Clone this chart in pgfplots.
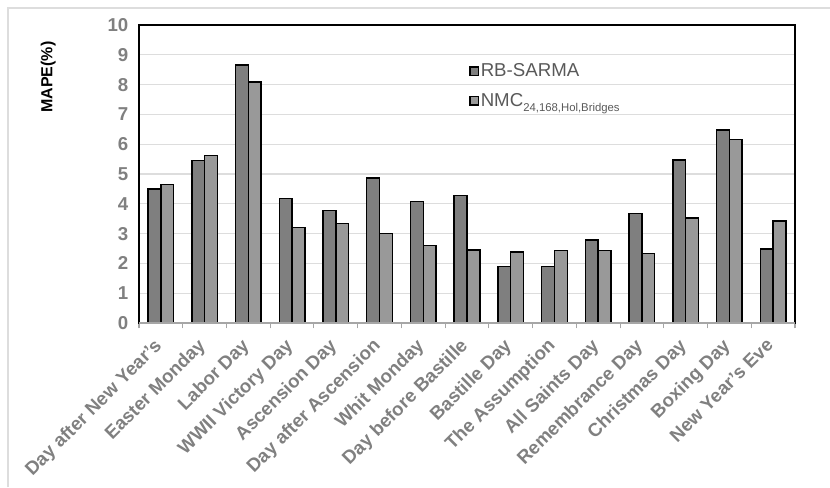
\documentclass[border=0pt]{standalone}
\usepackage{fontspec}
\setmainfont{Liberation Sans}
\usepackage{pgfplots}
\pgfplotsset{compat=1.18}
\definecolor{darkbar}{HTML}{7F7F7F}
\definecolor{lightbar}{HTML}{999999}
\definecolor{ticktext}{HTML}{808080}
\definecolor{legtext}{HTML}{595959}
\definecolor{gridc}{HTML}{DDDDDD}
\definecolor{framec}{HTML}{DDDDDD}
\definecolor{basec}{HTML}{A6A6A6}

\begin{document}
\begin{tikzpicture}
\begin{axis}[
  name=ax,
  scale only axis,
  width=492pt, height=223.5pt,
  ybar=0pt, bar width=9.6pt,
  xmin=-0.5, xmax=14.5,
  ymin=0, ymax=10,
  ytick={0,...,10},
  xtick={0,...,14},
  xticklabels={Day after New Year's, Easter Monday, Labor Day, WWII Victory Day,
    Ascension Day, Day after Ascension, Whit Monday, Day before Bastille,
    Bastille Day, The Assumption, All Saints Day, Remembrance Day,
    Christmas Day, Boxing Day, New Year's Eve},
  minor xtick={-0.5,0.5,...,14.5},
  xtick pos=lower, ytick pos=left,
  tick align=outside,
  major tick length=0pt,
  minor tick length=4pt,
  minor tick style={basec, line width=0.8pt},
  ymajorgrids,
  grid style={gridc, line width=1pt},
  axis line style={black, line width=1.1pt},
  /pgf/number format/assume math mode=true,
  yticklabel style={font=\fontsize{14}{16}\selectfont\bfseries, text=ticktext, xshift=-4.5pt},
  xticklabel style={font=\fontsize{14}{16}\selectfont\bfseries, text=ticktext,
    xshift=-6pt, yshift=-9pt, rotate=45, anchor=north east, inner sep=1pt},
  ylabel={MAPE(\%)},
  ylabel style={at={(rel axis cs:0,0.825)}, anchor=center, yshift=68pt,
    font=\fontsize{12}{14}\selectfont\bfseries, text=black},
  legend style={draw=none, fill=none, at={(rel axis cs:0.497,0.885)}, anchor=north west,
    font=\fontsize{14}{16}\selectfont, text=legtext, row sep=9pt,
    nodes={inner sep=1pt}},
  legend cell align=left,
  legend image code/.code={\draw[#1, line width=1.2pt] (0pt,-3.2pt) rectangle (6.4pt,3.2pt);},
]
\addplot[fill=darkbar, draw=black, line width=1.1pt] coordinates {
  (0,4.49) (1,5.46) (2,8.66) (3,4.18) (4,3.78) (5,4.87) (6,4.07) (7,4.28)
  (8,1.89) (9,1.89) (10,2.78) (11,3.68) (12,5.47) (13,6.48) (14,2.48)};
\addplot[fill=lightbar, draw=black, line width=1.1pt] coordinates {
  (0,4.64) (1,5.62) (2,8.09) (3,3.20) (4,3.34) (5,3.00) (6,2.60) (7,2.45)
  (8,2.38) (9,2.44) (10,2.44) (11,2.33) (12,3.53) (13,6.15) (14,3.43)};
\legend{RB-SARMA, NMC\raisebox{-0.55ex}{\fontsize{8.5}{10}\selectfont 24,168,Hol,Bridges}}
\end{axis}
\draw[basec, line width=2pt] (ax.south west) -- (ax.south east);
\draw[framec, line width=1pt] (-98.25pt,-123pt) -- (-98.25pt,236.25pt) -- (518.25pt,236.25pt);
\pgfresetboundingbox
\path (-104.25pt,-123pt) rectangle (518.25pt,242.25pt);
\end{tikzpicture}
\end{document}
